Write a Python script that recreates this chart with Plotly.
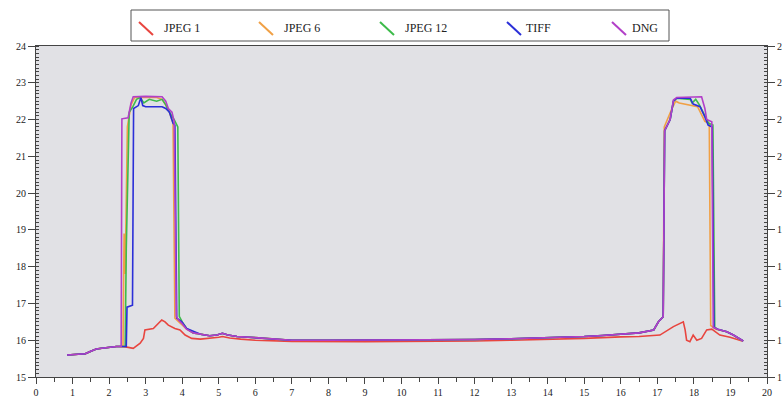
import plotly.graph_objects as go

# ---- shared baseline readings ----
left_x = [0.85, 1.0, 1.2, 1.35, 1.5, 1.65, 1.8, 2.0, 2.2, 2.3]
left_y = [15.6, 15.61, 15.62, 15.63, 15.7, 15.76, 15.78, 15.81, 15.83, 15.83]

mid_x = [4.5, 4.75, 4.95, 5.1, 5.25, 5.5, 6.0, 6.5, 7.0, 8, 9, 10, 11, 12, 13, 14, 15, 15.5, 16, 16.5, 16.9]
mid_y = [16.16, 16.12, 16.14, 16.19, 16.14, 16.1, 16.07, 16.03, 16.0, 16.0, 16.0, 16.0, 16.0, 16.02, 16.04, 16.06, 16.1, 16.13, 16.17, 16.2, 16.28]

tail_x = [18.9, 19.08, 19.26, 19.35]
tail_y = [16.23, 16.14, 16.02, 15.98]

# ---- JPEG 1 (red) ----
jpeg1_x = left_x + [2.45, 2.66, 2.85, 2.94, 2.98, 3.21, 3.3, 3.44, 3.53, 3.62, 3.8, 3.94, 4.08, 4.26,
                    4.5, 4.75, 5.0, 5.1, 5.3, 5.6, 6, 7, 8, 9, 10, 11, 12, 13, 14, 15, 16, 16.5,
                    17.07, 17.44, 17.71, 17.76, 17.8, 17.89, 17.98, 18.08, 18.21, 18.35, 18.49, 18.58,
                    18.71, 18.99, 19.26, 19.32]
jpeg1_y = left_y + [15.82, 15.78, 15.92, 16.05, 16.28, 16.32, 16.41, 16.55, 16.5, 16.41, 16.32, 16.28, 16.14, 16.05,
                    16.03, 16.05, 16.08, 16.1, 16.06, 16.03, 16.0, 15.97, 15.96, 15.96, 15.97, 15.97, 15.98, 16.0, 16.02, 16.05, 16.09, 16.1,
                    16.14, 16.37, 16.5, 16.28, 16.0, 15.96, 16.14, 16.0, 16.05, 16.28, 16.3, 16.23,
                    16.14, 16.08, 16.0, 15.98]

# ---- JPEG 6 (orange) ----
jpeg6_x = left_x + [2.38, 2.41, 2.44, 2.5, 2.6, 2.7, 3.3, 3.45, 3.55, 3.65, 3.75, 3.8, 3.9, 4.0, 4.12, 4.3] + mid_x + \
          [17.03, 17.16, 17.19, 17.4, 17.5, 17.6, 17.71, 17.9, 18.1, 18.3, 18.42, 18.46, 18.6] + tail_x
jpeg6_y = left_y + [15.83, 18.9, 17.8, 21.8, 22.4, 22.6, 22.6, 22.55, 22.4, 22.2, 21.9, 16.6, 16.5, 16.42, 16.3, 16.2] + mid_y + \
          [16.5, 16.64, 21.8, 22.3, 22.5, 22.45, 22.43, 22.4, 22.35, 21.95, 21.9, 16.4, 16.3] + tail_y

# ---- JPEG 12 (green) ----
jpeg12_x = left_x + [2.44, 2.47, 2.55, 2.65, 2.75, 2.85, 2.95, 3.1, 3.3, 3.45, 3.55, 3.65, 3.78, 3.88, 3.92, 4.0, 4.12, 4.3] + mid_x + \
           [17.03, 17.16, 17.2, 17.35, 17.44, 17.53, 17.9, 17.95, 18.05, 18.15, 18.3, 18.4, 18.52, 18.57, 18.65] + tail_x
jpeg12_y = left_y + [15.83, 18.5, 22.2, 22.35, 22.55, 22.6, 22.45, 22.55, 22.5, 22.55, 22.4, 22.2, 22.0, 21.8, 16.65, 16.5, 16.32, 16.2] + mid_y + \
           [16.5, 16.64, 21.7, 22.0, 22.5, 22.58, 22.55, 22.45, 22.55, 22.4, 22.1, 21.9, 21.85, 16.35, 16.3] + tail_y

# ---- TIFF (blue) ----
tiff_x = left_x + [2.47, 2.49, 2.64, 2.67, 2.8, 2.87, 2.92, 3.0, 3.45, 3.55, 3.65, 3.75, 3.8, 3.85, 3.99, 4.12, 4.4] + mid_x + \
         [17.03, 17.16, 17.2, 17.35, 17.44, 17.53, 17.9, 17.98, 18.17, 18.3, 18.39, 18.5, 18.55, 18.65] + tail_x
tiff_y = left_y + [15.83, 16.9, 16.95, 22.3, 22.38, 22.6, 22.38, 22.35, 22.35, 22.3, 22.2, 21.9, 21.85, 16.6, 16.5, 16.32, 16.19] + mid_y + \
         [16.5, 16.64, 21.7, 22.0, 22.5, 22.58, 22.58, 22.42, 22.35, 22.07, 21.85, 21.8, 16.35, 16.3] + tail_y

# ---- DNG (purple) ----
dng_x = left_x + [2.33, 2.35, 2.52, 2.6, 2.66, 3.0, 3.45, 3.55, 3.62, 3.72, 3.78, 3.84, 3.9, 4.0, 4.12, 4.3] + mid_x + \
        [17.03, 17.16, 17.2, 17.35, 17.44, 17.53, 17.9, 18.21, 18.3, 18.35, 18.49, 18.53, 18.65] + tail_x
dng_y = left_y + [15.83, 22.02, 22.05, 22.45, 22.62, 22.63, 22.62, 22.5, 22.3, 22.2, 21.95, 16.65, 16.55, 16.45, 16.3, 16.2] + mid_y + \
        [16.5, 16.64, 21.7, 22.0, 22.53, 22.6, 22.62, 22.62, 22.3, 22.0, 21.94, 16.35, 16.3] + tail_y

series_names = ["JPEG 1", "JPEG 6", "JPEG 12", "TIFF", "DNG"]
series_x = [jpeg1_x, jpeg6_x, jpeg12_x, tiff_x, dng_x]
series_y = [jpeg1_y, jpeg6_y, jpeg12_y, tiff_y, dng_y]
series_colors = ["#e8453f", "#f0a045", "#3dbb4a", "#2b2fd8", "#b23fc8"]

# ---- layout constants (pixels) ----
W, H = 782, 403
ML, MR, MT, MB = 36, 15, 46, 26
PW, PH = W - ML - MR, H - MT - MB
legend_box = (131, 10, 669, 41)              # x0, y0, x1, y1 in page pixels
legend_sym_x = [139, 259, 380, 507, 612]     # start of each diagonal swatch
legend_txt_x = [162, 282, 403, 524, 630]


def px(x):
    return (x - ML) / PW


def py(y):
    return (H - MB - y) / PH


font = "Liberation Serif, Times New Roman, serif"
fig = go.Figure()
for name, xs, ys, col in zip(series_names, series_x, series_y, series_colors):
    fig.add_trace(go.Scatter(x=xs, y=ys, mode="lines", name=name, showlegend=False,
                             line=dict(color=col, width=1.6)))

# right-side mirrored axis with labels (partly cut off by the page edge, as in the source)
fig.add_trace(go.Scatter(x=[None], y=[None], yaxis="y2", showlegend=False, hoverinfo="skip"))

# hand-drawn legend: box, diagonal swatches, labels
shapes = [dict(type="rect", xref="paper", yref="paper",
               x0=px(legend_box[0]), x1=px(legend_box[2]),
               y0=py(legend_box[3]), y1=py(legend_box[1]),
               fillcolor="white", line=dict(color="#555", width=1), layer="above")]
annotations = []
for name, col, sx, tx in zip(series_names, series_colors, legend_sym_x, legend_txt_x):
    shapes.append(dict(type="line", xref="paper", yref="paper",
                       x0=px(sx), y0=py(22), x1=px(sx + 14), y1=py(35),
                       line=dict(color=col, width=2), layer="above"))
    annotations.append(dict(text=name, xref="paper", yref="paper", x=px(tx), y=py(28),
                            xanchor="left", yanchor="middle", showarrow=False,
                            font=dict(family=font, size=12, color="#222")))

axis_common = dict(showgrid=False, zeroline=False, showline=True, linecolor="#444", linewidth=1,
                   tickfont=dict(family=font, size=10, color="#222"), ticks="outside",
                   tickcolor="#444", automargin=False)

fig.update_layout(
    width=W, height=H,
    margin=dict(l=ML, r=MR, t=MT, b=MB, autoexpand=False),
    paper_bgcolor="white",
    plot_bgcolor="#e1e1e5",
    font=dict(family=font, size=11, color="#222"),
    xaxis=dict(range=[0, 20], dtick=1, tick0=0, ticklen=6, mirror=True,
               minor=dict(dtick=0.5, ticks="outside", ticklen=4, tickcolor="#444"),
               **axis_common),
    yaxis=dict(range=[15, 24], dtick=1, tick0=15, ticklen=7,
               minor=dict(dtick=0.1, ticks="inside", ticklen=3, tickcolor="#444"),
               **axis_common),
    yaxis2=dict(range=[15, 24], dtick=1, tick0=15, ticklen=7, overlaying="y", side="right",
                minor=dict(dtick=0.1, ticks="inside", ticklen=3, tickcolor="#444"),
                **axis_common),
    shapes=shapes,
    annotations=annotations,
    showlegend=False,
)

fig.write_html("out.html", config={"displayModeBar": False},
               post_script="document.body.style.margin='0';document.body.style.overflow='hidden';")
